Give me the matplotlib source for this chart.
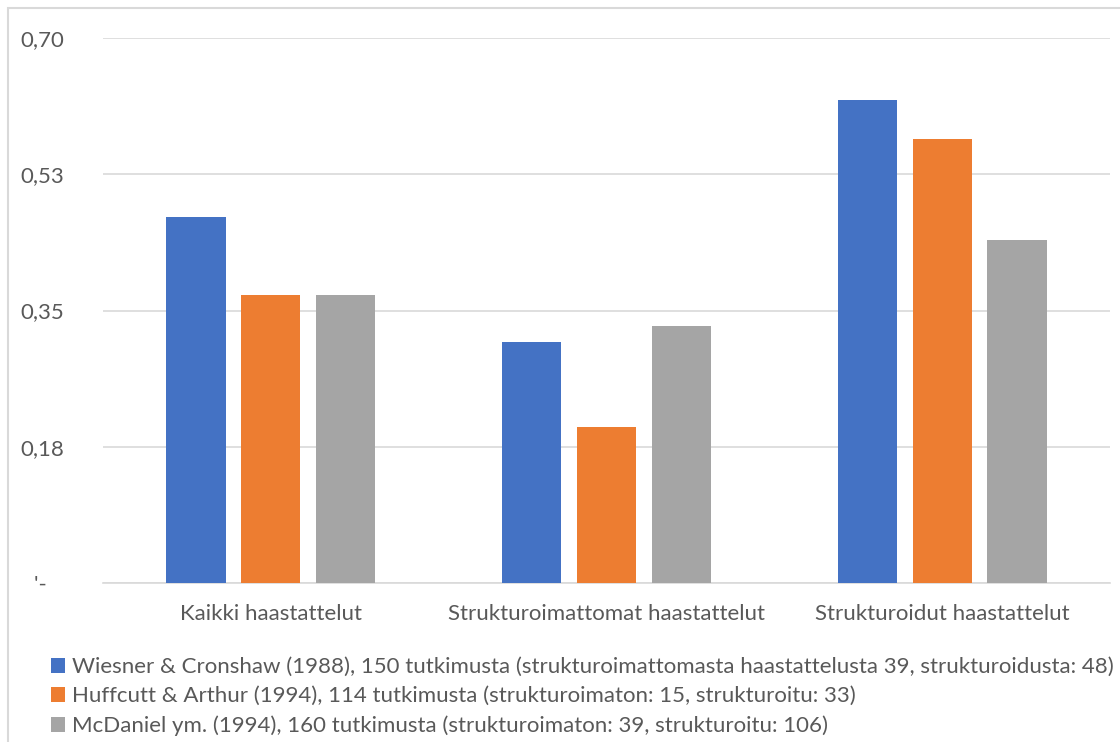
import matplotlib
matplotlib.use("Agg")
import matplotlib.pyplot as plt
import numpy as np
from matplotlib.patches import Rectangle

plt.rcParams['font.family'] = ['Lato', 'DejaVu Sans']

categories = ['Kaikki haastattelut', 'Strukturoimattomat haastattelut', 'Strukturoidut haastattelut']
series_names = [
    'Wiesner & Cronshaw (1988), 150 tutkimusta (strukturoimattomasta haastattelusta 39, strukturoidusta: 48)',
    'Huffcutt & Arthur (1994), 114 tutkimusta (strukturoimaton: 15, strukturoitu: 33)',
    'McDaniel ym. (1994), 160 tutkimusta (strukturoimaton: 39, strukturoitu: 106)',
]
wiesner = [0.47, 0.31, 0.62]
huffcutt = [0.37, 0.20, 0.57]
mcdaniel = [0.37, 0.33, 0.44]
yticks = [0, 0.175, 0.35, 0.525, 0.70]
ytick_labels = ["'-   ", '0,18', '0,35', '0,53', '0,70']

colors = ['#4472c4', '#ed7d31', '#a5a5a5']
text_col = '#595959'
grid_col = '#d9d9d9'
fs = 16

fig = plt.figure(figsize=(11.2, 7.42), dpi=100)
ax = fig.add_axes([103 / 1120, 1 - 583 / 742, 1007 / 1120, 545 / 742])

x = np.arange(len(categories))
w = 0.176
off = 0.223
for i, vals in enumerate([wiesner, huffcutt, mcdaniel]):
    ax.bar(x + (i - 1) * off, vals, width=w, color=colors[i], label=series_names[i], zorder=3)

ax.set_xlim(-0.5, 2.5)
ax.set_ylim(0, 0.70)
ax.set_yticks(yticks)
ax.set_yticklabels(ytick_labels, fontsize=fs, color=text_col)
ax.set_xticks(x)
ax.set_xticklabels(categories, fontsize=fs, color=text_col)
ax.tick_params(axis='y', length=0, pad=28)
ax.tick_params(axis='x', length=0, pad=15)
ax.yaxis.grid(True, color=grid_col, lw=1.2, zorder=0)
for s in ['top', 'right', 'left']:
    ax.spines[s].set_visible(False)
ax.spines['bottom'].set_color(grid_col)
ax.spines['bottom'].set_linewidth(1.2)

leg = fig.legend(loc='upper left', bbox_to_anchor=(51 / 1120, 1 - 657 / 742),
                 frameon=False, fontsize=fs, handlelength=0.65, handleheight=0.65,
                 handletextpad=0.3, labelspacing=0.42, borderaxespad=0, borderpad=0)
for t in leg.get_texts():
    t.set_color(text_col)

# chart border (cut off at right and bottom)
fig.patches.append(Rectangle((8 / 1120, -0.1), 1.2, 1 - 8 / 742 + 0.1, transform=fig.transFigure,
                             fill=False, edgecolor=grid_col, lw=1.5))

fig.savefig('out.png', dpi=100)
